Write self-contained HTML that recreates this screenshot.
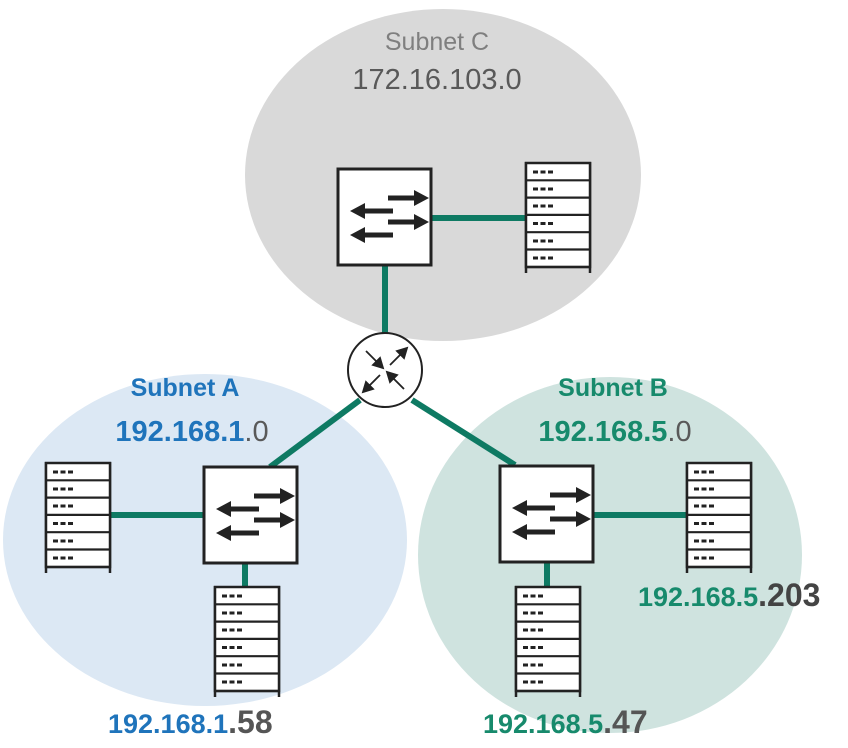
<!DOCTYPE html>
<html><head><meta charset="utf-8"><style>
html,body{margin:0;padding:0;background:#fff;width:848px;height:748px;overflow:hidden}
svg{display:block}
text{font-family:"Liberation Sans",sans-serif}
</style></head><body>
<svg width="848" height="748" viewBox="0 0 848 748" xmlns="http://www.w3.org/2000/svg">
<defs>
<g id="srv">
  <line x1="1" y1="0" x2="1" y2="111" stroke="#222" stroke-width="2.5"/>
  <line x1="65" y1="0" x2="65" y2="111" stroke="#222" stroke-width="2.5"/>
  <rect x="1" y="1" width="64" height="104" fill="#fff" stroke="#222" stroke-width="2.5"/>
  <g stroke="#222" stroke-width="2.2">
    <line x1="1" y1="18.3" x2="65" y2="18.3"/><line x1="1" y1="35.6" x2="65" y2="35.6"/>
    <line x1="1" y1="52.9" x2="65" y2="52.9"/><line x1="1" y1="70.2" x2="65" y2="70.2"/>
    <line x1="1" y1="87.5" x2="65" y2="87.5"/><line x1="1" y1="105" x2="65" y2="105"/>
  </g>
  <g stroke="#222" stroke-width="3" stroke-dasharray="5,2.5">
    <line x1="8" y1="10" x2="29" y2="10"/><line x1="8" y1="27" x2="29" y2="27"/>
    <line x1="8" y1="44" x2="29" y2="44"/><line x1="8" y1="61.5" x2="29" y2="61.5"/>
    <line x1="8" y1="79" x2="29" y2="79"/><line x1="8" y1="96" x2="29" y2="96"/>
  </g>
</g>
<g id="sw">
  <rect x="0" y="0" width="93" height="96" fill="#fff" stroke="#222" stroke-width="3"/>
  <g stroke="#222" stroke-width="5">
    <line x1="50" y1="29" x2="78" y2="29"/><line x1="50" y1="53" x2="78" y2="53"/>
    <line x1="24" y1="42" x2="55" y2="42"/><line x1="24" y1="66" x2="55" y2="66"/>
  </g>
  <g fill="#222">
    <polygon points="76,21 91,29 76,37"/><polygon points="76,45 91,53 76,61"/>
    <polygon points="27,34 12,42 27,50"/><polygon points="27,58 12,66 27,74"/>
  </g>
</g>
</defs>
<ellipse cx="443" cy="175" rx="198" ry="166" fill="#d9d9d9"/>
<ellipse cx="205" cy="540" rx="202" ry="166" fill="#dce8f4"/>
<ellipse cx="610" cy="555" rx="192" ry="178" fill="#cfe3df"/>
<g stroke="#0e7a63" stroke-width="6" fill="none">
  <line x1="385" y1="265" x2="385" y2="335"/>
  <line x1="432" y1="218" x2="525" y2="218"/>
  <line x1="360" y1="400" x2="270" y2="467"/>
  <line x1="412" y1="400" x2="515" y2="465"/>
  <line x1="111" y1="515" x2="204" y2="515"/>
  <line x1="245" y1="562" x2="245" y2="586"/>
  <line x1="594" y1="515" x2="686" y2="515"/>
  <line x1="547" y1="562" x2="547" y2="586"/>
</g>
<circle cx="385" cy="370" r="37" fill="#fff" stroke="#222" stroke-width="2"/>
<g stroke="#222" stroke-width="1.8" fill="#222">
  <line x1="366" y1="351" x2="378" y2="363"/><polygon points="383,368 373,365 380,358"/>
  <line x1="390" y1="365" x2="402" y2="353"/><polygon points="407,348 404,358 397,351"/>
  <line x1="380" y1="375" x2="368" y2="387"/><polygon points="363,392 366,382 373,389"/>
  <line x1="404" y1="389" x2="392" y2="377"/><polygon points="387,372 397,375 390,382"/>
</g>
<use href="#sw" x="338" y="169"/>
<use href="#srv" x="525" y="162"/>
<use href="#sw" x="204" y="467"/>
<use href="#srv" x="45" y="462"/>
<use href="#srv" x="214" y="586"/>
<use href="#sw" x="500" y="466"/>
<use href="#srv" x="686" y="462"/>
<use href="#srv" x="515" y="586"/>
<text x="437" y="50" font-size="25" fill="#7f7f7f" text-anchor="middle">Subnet C</text>
<text x="437" y="89" font-size="29" fill="#595959" text-anchor="middle">172.16.103.0</text>
<text x="185" y="396" font-size="25" font-weight="bold" fill="#1f74bb" text-anchor="middle">Subnet A</text>
<text x="192" y="441" font-size="29" text-anchor="middle"><tspan font-weight="bold" fill="#1f74bb">192.168.1</tspan><tspan fill="#595959">.0</tspan></text>
<text x="613" y="396" font-size="25" font-weight="bold" fill="#178a6c" text-anchor="middle">Subnet B</text>
<text x="615" y="441" font-size="29" text-anchor="middle"><tspan font-weight="bold" fill="#178a6c">192.168.5</tspan><tspan fill="#595959">.0</tspan></text>
<text x="638" y="606" font-size="27"><tspan font-weight="bold" fill="#178a6c">192.168.5</tspan><tspan fill="#444" font-weight="bold" font-size="32">.203</tspan></text>
<text x="108" y="733" font-size="27"><tspan font-weight="bold" fill="#1f74bb">192.168.1</tspan><tspan fill="#555" font-weight="bold" font-size="32">.58</tspan></text>
<text x="483" y="733" font-size="27"><tspan font-weight="bold" fill="#178a6c">192.168.5</tspan><tspan fill="#555" font-weight="bold" font-size="32">.47</tspan></text>
</svg>
</body></html>
